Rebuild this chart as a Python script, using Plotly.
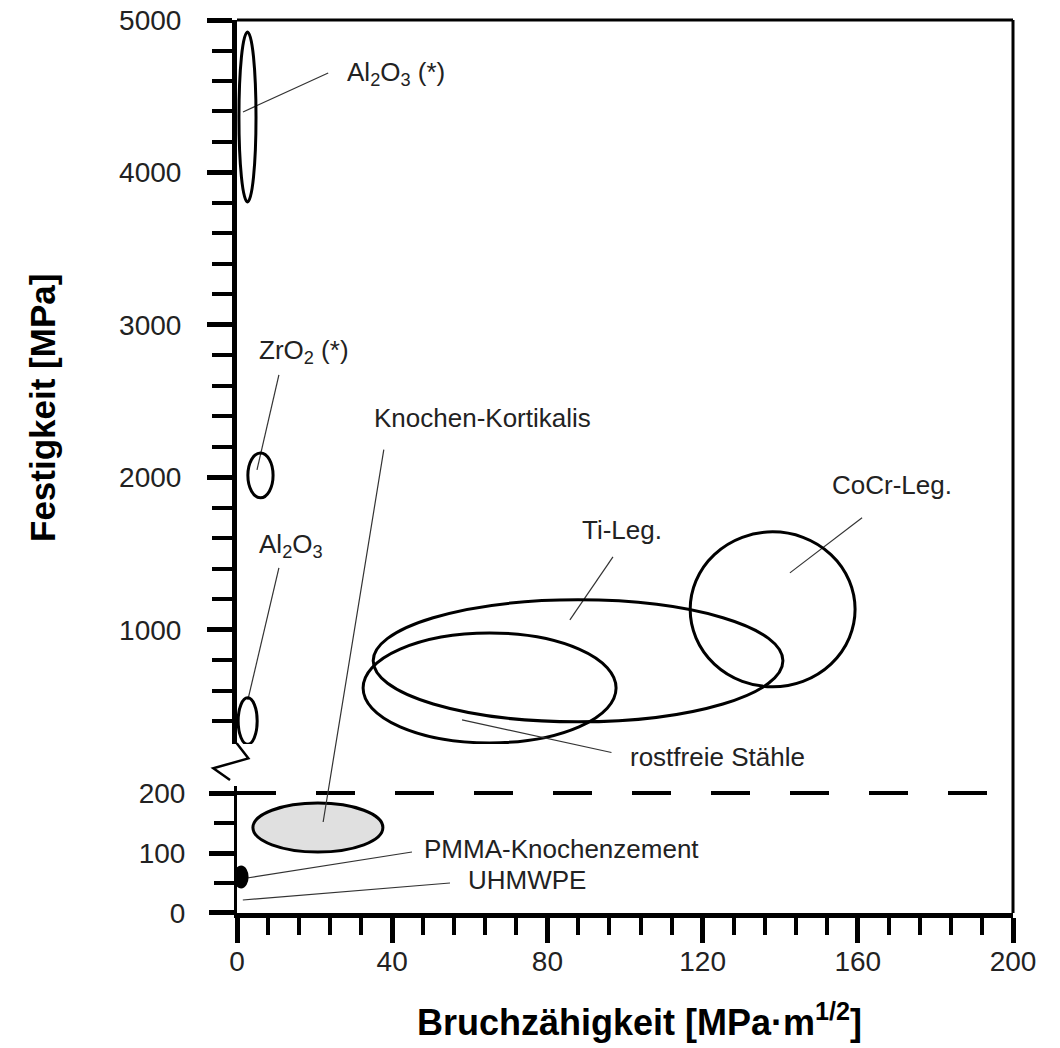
import plotly.graph_objects as go

# ---------------- data ----------------
# property ranges of implant materials: fracture toughness [MPa*m^1/2] and strength [MPa]
materials = ["Al2O3 (*)", "ZrO2 (*)", "Al2O3", "Ti-Leg.", "rostfreie Stähle",
             "CoCr-Leg.", "Knochen-Kortikalis", "PMMA-Knochenzement"]
tough_min = [0.5, 2.8, 0.3, 35.1, 32.5, 116.8, 4.1, -0.5]
tough_max = [4.9, 9.3, 5.2, 140.7, 97.7, 159.3, 37.6, 2.6]
strength_min = [3807, 1866, 250, 397, 259, 627, 101.7, 43.3]
strength_max = [4921, 2161, 555, 1197, 980, 1643, 183.3, 76.7]
panel = ["upper", "upper", "upper", "upper", "upper", "upper", "lower", "lower"]

# labels (text, anchor point in data units, panel)
label_text = ["Al<sub>2</sub>O<sub>3</sub> (*)", "ZrO<sub>2</sub> (*)", "Al<sub>2</sub>O<sub>3</sub>",
              "Knochen-Kortikalis", "Ti-Leg.", "CoCr-Leg.", "rostfreie Stähle",
              "PMMA-Knochenzement", "UHMWPE"]
label_x = [27.8, 5.2, 5.2, 34.8, 88.5, 152.8, 100.8, 47.7, 59.0]
label_y = [4649, 2823, 1551, 2390, 1656, 1951, 252, 107, 55]
label_panel = ["upper", "upper", "upper", "upper", "upper", "upper", "upper", "lower", "lower"]

# leader lines: head (at material field) and tail (at label)
lead_head_x = [1.55, 5.15, 2.8, 22.2, 85.8, 142.5, 58.0, 2.6, 1.5]
lead_head_y = [4397, 2049, 541, 151.7, 1066, 1374, 410, 58.3, 21.7]
lead_tail_x = [23.5, 10.8, 10.8, 37.9, 96.9, 161.1, 96.9, 45.1, 54.9]
lead_tail_y = [4652, 2672, 1407, 775, 1479, 1735, 194, 101.7, 50]
lead_panel = ["upper", "upper", "upper", "lower", "upper", "upper", "upper", "lower", "lower"]

x_range = [0, 200]
lower_range = [0, 211.7]
upper_range = [252, 5000]
break_value = 200

# ---------------- style ----------------
fill_style = {"Knochen-Kortikalis": "#e0e0e0", "PMMA-Knochenzement": "black"}
TXT = "#222222"
FONT = "Liberation Sans, Arial, sans-serif"
yref_of = {"upper": "y2", "lower": "y"}

fig = go.Figure()
fig.add_trace(go.Scatter(x=[None], y=[None], xaxis="x", yaxis="y", showlegend=False, hoverinfo="skip"))
fig.add_trace(go.Scatter(x=[None], y=[None], xaxis="x", yaxis="y2", showlegend=False, hoverinfo="skip"))

for name, x0, x1, y0, y1, p in zip(materials, tough_min, tough_max, strength_min, strength_max, panel):
    fig.add_shape(type="circle", xref="x", yref=yref_of[p], x0=x0, x1=x1, y0=y0, y1=y1,
                  line=dict(color="black", width=3),
                  fillcolor=fill_style.get(name, "rgba(0,0,0,0)"), layer="above")

# leader lines: inside a single panel -> line traces; crossing the break -> annotation arrows
rng = {"upper": upper_range, "lower": lower_range}
for hx, hy, tx, ty, p in zip(lead_head_x, lead_head_y, lead_tail_x, lead_tail_y, lead_panel):
    lo, hi = rng[p]
    if lo <= hy <= hi and lo <= ty <= hi:
        fig.add_trace(go.Scatter(x=[hx, tx], y=[hy, ty], xaxis="x", yaxis=yref_of[p],
                                 mode="lines", line=dict(color="#333333", width=1.2),
                                 showlegend=False, hoverinfo="skip"))
    else:
        r = yref_of[p]
        fig.add_annotation(x=hx, y=hy, xref="x", yref=r, ax=tx, ay=ty, axref="x", ayref=r,
                           text="", showarrow=True, arrowhead=0, arrowwidth=1.2,
                           arrowcolor="#333333", standoff=0, startstandoff=0)

for t, lx, ly, p in zip(label_text, label_x, label_y, label_panel):
    shift = -13 if t == "rostfreie Stähle" else 0
    fig.add_annotation(x=lx, y=ly, xref="x", yref=yref_of[p], text=t, showarrow=False,
                       xanchor="left", yanchor="middle", yshift=shift,
                       font=dict(family=FONT, size=26, color=TXT))

# dashed line at the axis break
fig.add_shape(type="line", xref="x", yref="y", x0=x_range[0], x1=x_range[1],
              y0=break_value, y1=break_value,
              line=dict(color="black", width=4, dash="39px,40px"), layer="above")

# frame: top and right
fig.add_shape(type="line", xref="paper", yref="paper", x0=0, x1=1, y0=1, y1=1,
              line=dict(color="black", width=3))
fig.add_shape(type="line", xref="paper", yref="paper", x0=1, x1=1, y0=0, y1=1,
              line=dict(color="black", width=3))
# break zig-zag
fig.add_shape(type="path", xref="paper", yref="paper",
              path="M -0.0004,0.1900 L 0.0146,0.1732 L -0.0305,0.1620 L -0.0090,0.1489",
              line=dict(color="black", width=2.5))

tickfont = dict(family=FONT, size=28, color=TXT)
common = dict(showgrid=False, zeroline=False, showline=True, linecolor="black",
              ticks="outside", tickcolor="black", tickfont=tickfont, automargin=False,
              ticklabeloverflow="allow")

# page body adds an 8px offset, so the figure is 8px smaller and the left/top margins 8px less
fig.update_layout(
    width=1052, height=1040,
    margin=dict(l=229, r=47, t=12, b=135),
    paper_bgcolor="white", plot_bgcolor="white",
    showlegend=False,
    xaxis=dict(domain=[0, 1], range=x_range, anchor="y", linewidth=5,
               tick0=0, dtick=40, ticklen=25, tickwidth=5, ticklabelstandoff=-6,
               minor=dict(ticks="outside", tick0=0, dtick=8, ticklen=17, tickwidth=4, tickcolor="black"),
               **common),
    yaxis=dict(domain=[0, 0.1422], range=lower_range, anchor="x", linewidth=3,
               tick0=0, dtick=100, ticklen=25, tickwidth=5, ticklabelstandoff=18,
               minor=dict(ticks="outside", tick0=0, dtick=50, ticklen=20, tickwidth=4, tickcolor="black"),
               **common),
    yaxis2=dict(domain=[0.1893, 1], range=upper_range, anchor="x", linewidth=5,
                tick0=0, dtick=1000, ticklen=25, tickwidth=5, ticklabelstandoff=20,
                minor=dict(ticks="outside", tick0=0, dtick=200, ticklen=20, tickwidth=4, tickcolor="black"),
                **common),
)

fig.add_annotation(xref="paper", yref="paper", x=-0.2513, y=0.5655, textangle=-90,
                   xanchor="center", yanchor="middle",
                   text="Festigkeit [MPa]", showarrow=False,
                   font=dict(family=FONT, size=35, color="black", weight="bold"))
fig.add_annotation(xref="paper", yref="paper", x=0.519, y=-0.1198,
                   xanchor="center", yanchor="middle",
                   text="Bruchzähigkeit [MPa·m<sup>1/2</sup>]", showarrow=False,
                   font=dict(family=FONT, size=36, color="black", weight="bold"))

fig.write_html("out.html")
